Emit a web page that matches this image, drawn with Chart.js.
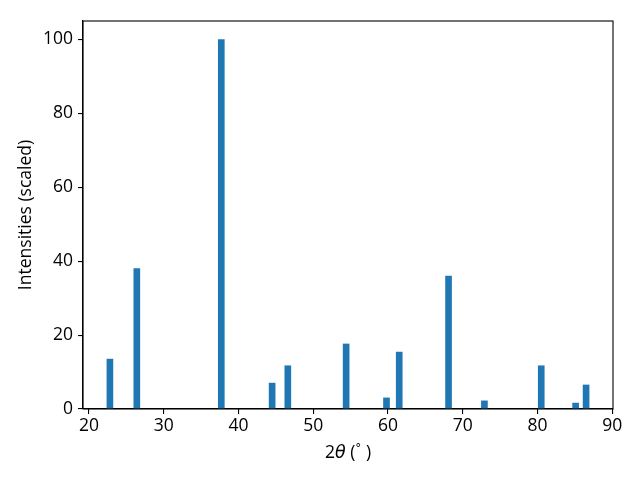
<!DOCTYPE html>
<html>
<head>
<meta charset="utf-8">
<script src="https://cdn.jsdelivr.net/npm/chart.js@4.4.0/dist/chart.umd.min.js"></script>
<style>
  html, body { margin: 0; padding: 0; background: #fff; }
</style>
</head>
<body>
<canvas id="myChart" width="640" height="480"></canvas>
<script>
// peak positions (2theta, degrees) and scaled intensities
const twoTheta = [22.8, 26.4, 37.7, 44.5, 46.6, 54.4, 59.8, 61.5, 68.1, 72.9, 80.5, 85.1, 86.5];
const intensity = [13.5, 38, 100, 7, 11.7, 17.6, 3, 15.4, 36, 2.2, 11.7, 1.6, 6.5];
const xTicks = [20, 30, 40, 50, 60, 70, 80, 90];
const yTicks = [0, 20, 40, 60, 80, 100];

const fontFamily = "'Open Sans', 'Noto Sans', sans-serif";
const font = { family: fontFamily, size: 17.5 };

// draws the top and right spines like matplotlib's box
const frameBox = {
  id: "frameBox",
  afterDraw(chart) {
    const { ctx, chartArea: { left, top, right, bottom } } = chart;
    ctx.save();
    ctx.strokeStyle = "#000";
    ctx.lineWidth = 1.1;
    ctx.strokeRect(left, top, right - left, bottom - top);
    ctx.restore();
  },
};

// x axis title with italic theta and raised degree sign
const xTitle = {
  id: "xTitle",
  afterDraw(chart) {
    const { ctx, chartArea: { left, right, bottom } } = chart;
    const parts = [
      { t: "2", f: `17.5px ${fontFamily}`, dy: 0 },
      { t: "θ", f: `italic 17.5px 'DejaVu Sans'`, dy: 0 },
      { t: " (", f: `17.5px ${fontFamily}`, dy: 0 },
      { t: "°", f: `12px 'DejaVu Sans'`, dy: -6 },
      { t: " )", f: `17.5px ${fontFamily}`, dy: 0 },
    ];
    ctx.save();
    ctx.fillStyle = "#000";
    ctx.textBaseline = "alphabetic";
    let total = 0;
    parts.forEach((p) => {
      ctx.font = p.f;
      p.w = ctx.measureText(p.t).width;
      total += p.w;
    });
    let x = (left + right) / 2 - total / 2;
    const y = bottom + 49;
    parts.forEach((p) => {
      ctx.font = p.f;
      ctx.fillText(p.t, x, y + p.dy);
      x += p.w;
    });
    ctx.restore();
  },
};

const data = {
  datasets: [
    {
      data: twoTheta.map((t, i) => ({ x: t, y: intensity[i] })),
      backgroundColor: "#1f77b4",
      borderWidth: 0,
      barThickness: 6,
    },
  ],
};

const config = {
  type: "bar",
  data,
  options: {
    responsive: false,
    animation: false,
    layout: { padding: { top: 21, right: 27, left: 0, bottom: 0 } },
    plugins: {
      legend: { display: false },
      tooltip: { enabled: false },
    },
    scales: {
      x: {
        type: "linear",
        offset: false,
        min: 19.2,
        max: 90.1,
        afterBuildTicks: (scale) => {
          scale.ticks = xTicks.map((v) => ({ value: v }));
        },
        afterFit: (scale) => {
          scale.height = 71;
        },
        ticks: { color: "#000", font, padding: 2, maxRotation: 0 },
        grid: { display: true, offset: false, drawOnChartArea: false, drawTicks: true, tickLength: 5, color: "#000", lineWidth: 1.1 },
        border: { display: true, color: "#000", width: 1.1 },
      },
      y: {
        min: 0,
        max: 105,
        afterBuildTicks: (scale) => {
          scale.ticks = yTicks.map((v) => ({ value: v }));
        },
        afterFit: (scale) => {
          scale.width = 83;
        },
        ticks: { color: "#000", font, padding: 5 },
        grid: { display: true, drawOnChartArea: false, drawTicks: true, tickLength: 5, color: "#000", lineWidth: 1.1 },
        border: { display: true, color: "#000", width: 1.1 },
        title: { display: true, text: "Intensities (scaled)", color: "#000", font, padding: { top: 16, bottom: 0 } },
      },
    },
  },
  plugins: [frameBox, xTitle],
};

const myChart = new Chart(document.getElementById("myChart"), config);
</script>
</body>
</html>
